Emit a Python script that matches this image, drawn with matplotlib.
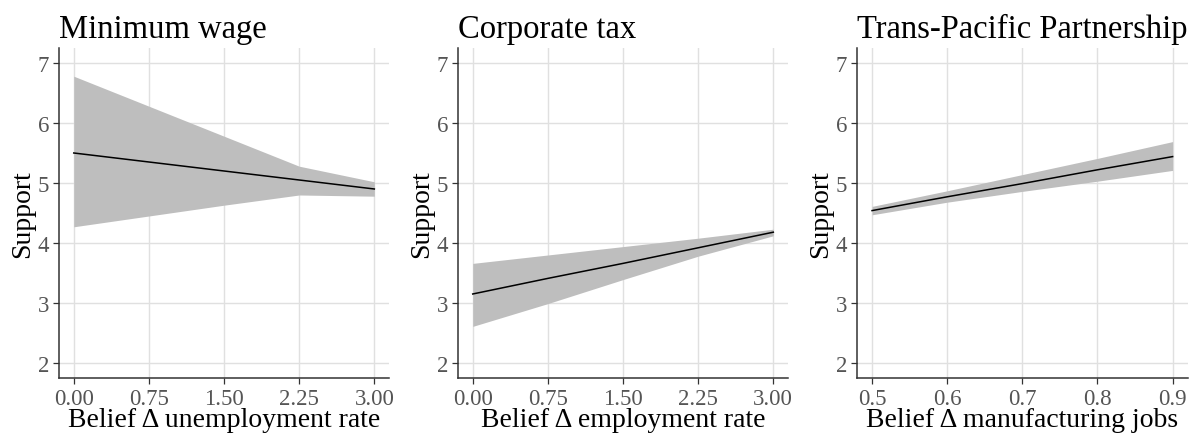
import numpy as np
import matplotlib.pyplot as plt

plt.rcParams['font.family'] = ['Liberation Serif', 'DejaVu Serif']

# Predicted support with confidence bands for each policy
titles = ['Minimum wage', 'Corporate tax', 'Trans-Pacific Partnership']
xlabels = ['Belief \u0394 unemployment rate', 'Belief \u0394 employment rate',
           'Belief \u0394 manufacturing jobs']

mw_x = [0.0, 0.75, 1.5, 2.25, 3.0]
mw_fit = [5.50, 5.35, 5.20, 5.05, 4.90]
mw_lo = [4.27, 4.45, 4.63, 4.80, 4.78]
mw_hi = [6.78, 6.28, 5.78, 5.28, 5.02]

ct_x = [0.0, 0.75, 1.5, 2.25, 3.0]
ct_fit = [3.15, 3.41, 3.66, 3.92, 4.18]
ct_lo = [2.61, 2.99, 3.39, 3.78, 4.12]
ct_hi = [3.66, 3.80, 3.94, 4.08, 4.23]

tpp_x = [0.5, 0.6, 0.7, 0.8, 0.9]
tpp_fit = [4.54, 4.77, 4.99, 5.22, 5.44]
tpp_lo = [4.47, 4.68, 4.86, 5.03, 5.21]
tpp_hi = [4.61, 4.87, 5.14, 5.41, 5.69]

xticks = [[0, 0.75, 1.5, 2.25, 3.0], [0, 0.75, 1.5, 2.25, 3.0],
          [0.5, 0.6, 0.7, 0.8, 0.9]]
xticklabels = [['0.00', '0.75', '1.50', '2.25', '3.00'],
               ['0.00', '0.75', '1.50', '2.25', '3.00'],
               ['0.5', '0.6', '0.7', '0.8', '0.9']]
yticks = [2, 3, 4, 5, 6, 7]

series = [(mw_x, mw_fit, mw_lo, mw_hi),
          (ct_x, ct_fit, ct_lo, ct_hi),
          (tpp_x, tpp_fit, tpp_lo, tpp_hi)]

fig = plt.figure(figsize=(12.01, 4.39), dpi=100)
lefts = [0.0489, 0.3811, 0.7136]

for i, (x, fit, lo, hi) in enumerate(series):
    ax = fig.add_axes([lefts[i], 0.1367, 0.2753, 0.7517])
    ax.fill_between(x, lo, hi, color='#bebebe', lw=0, zorder=2)
    ax.plot(x, fit, color='black', lw=1.1, zorder=3)

    span = xticks[i][-1] - xticks[i][0]
    ax.set_xlim(xticks[i][0] - 0.05 * span, xticks[i][-1] + 0.05 * span)
    ax.set_ylim(1.75, 7.25)
    ax.set_xticks(xticks[i])
    ax.set_xticklabels(xticklabels[i])
    ax.set_yticks(yticks)

    ax.grid(True, color='#e0e0e0', lw=1.0, zorder=0)
    ax.set_axisbelow(True)
    for side in ['top', 'right']:
        ax.spines[side].set_visible(False)
    for side in ['left', 'bottom']:
        ax.spines[side].set_color('#333333')
        ax.spines[side].set_linewidth(1.1)
    ax.tick_params(axis='both', colors='#333333', labelcolor='#555555',
                   labelsize=16.5, length=4, width=0.9, pad=3)

    ax.set_title(titles[i], loc='left', fontsize=23.5, pad=8)
    ax.set_xlabel(xlabels[i], fontsize=20, labelpad=-1)
    ax.set_ylabel('Support', fontsize=20, labelpad=2)

fig.savefig('out.png', dpi=100)
